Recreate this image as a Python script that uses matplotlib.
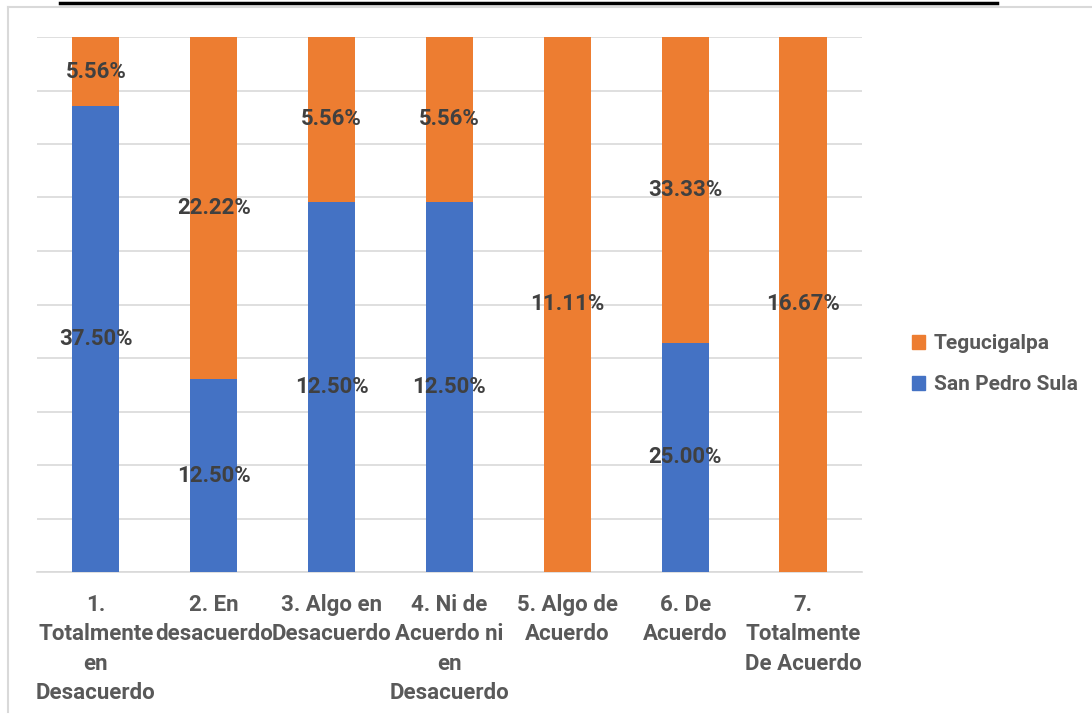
import matplotlib
import matplotlib.pyplot as plt
from matplotlib.lines import Line2D
from matplotlib.patches import Patch
import numpy as np

plt.rcParams['font.family'] = ['Roboto', 'DejaVu Sans']
plt.rcParams['font.weight'] = 'bold'

categories = ['1.\nTotalmente\nen\nDesacuerdo', '2. En\ndesacuerdo', '3. Algo en\nDesacuerdo',
              '4. Ni de\nAcuerdo ni\nen\nDesacuerdo', '5. Algo de\nAcuerdo', '6. De\nAcuerdo',
              '7.\nTotalmente\nDe Acuerdo']
san_pedro = [37.50, 12.50, 12.50, 12.50, 0.0, 25.00, 0.0]
tegucigalpa = [5.56, 22.22, 5.56, 5.56, 11.11, 33.33, 16.67]

blue = '#4472C4'
orange = '#ED7D31'

W, H = 1092, 715
fig = plt.figure(figsize=(W / 100, H / 100), dpi=100)
ax = fig.add_axes([37 / W, 1 - 572 / H, (862 - 37) / W, (572 - 37) / H])

sps = np.array(san_pedro)
teg = np.array(tegucigalpa)
total = sps + teg
sps_share = sps / total
teg_share = teg / total
x = np.arange(len(categories))

ax.bar(x, sps_share, width=0.4, color=blue, zorder=3)
ax.bar(x, teg_share, width=0.4, bottom=sps_share, color=orange, zorder=3)

# percentage labels centred in each segment
for i in range(len(x)):
    if sps[i] > 0:
        ax.text(x[i], sps_share[i] / 2, f'{sps[i]:.2f}%', ha='center', va='center',
                fontsize=16, fontweight='bold', color='#404040', zorder=4)
    if teg[i] > 0:
        ax.text(x[i], sps_share[i] + teg_share[i] / 2, f'{teg[i]:.2f}%', ha='center', va='center',
                fontsize=16, fontweight='bold', color='#404040', zorder=4)

ax.set_xlim(-0.5, len(x) - 0.5)
ax.set_ylim(0, 1)
ax.set_yticks(np.linspace(0, 1, 11))
ax.set_yticklabels([])
ax.tick_params(axis='y', length=0)
ax.grid(axis='y', color='#D9D9D9', linewidth=1.2, zorder=0)
ax.set_xticks(x)
ax.set_xticklabels(categories, fontsize=16, fontweight='bold', color='#595959', linespacing=1.42)
ax.tick_params(axis='x', length=0, pad=16)
for side in ['top', 'right', 'left']:
    ax.spines[side].set_visible(False)
ax.spines['bottom'].set_color('#D9D9D9')
ax.spines['bottom'].set_linewidth(1.2)

handles = [Patch(color=orange, label='Tegucigalpa'), Patch(color=blue, label='San Pedro Sula')]
fig.legend(handles=handles, loc='center left', bbox_to_anchor=(893 / W, 1 - 364 / H),
           frameon=False, handlelength=0.65, handleheight=0.65,
           handletextpad=0.4, labelspacing=1.05, labelcolor='#595959',
           prop={'weight': 'bold', 'size': 15})

# chart frame and the table rule above it
fig.add_artist(Line2D([8 / W, 8 / W], [1 - 7 / H, 1 - 712 / H], color='#D9D9D9', linewidth=1.5))
fig.add_artist(Line2D([8 / W, 1], [1 - 7 / H, 1 - 7 / H], color='#D9D9D9', linewidth=1.5))
fig.add_artist(Line2D([60 / W, 997 / W], [1 - 3 / H, 1 - 3 / H], color='black', linewidth=2.5))

fig.savefig('out.png', dpi=100)
